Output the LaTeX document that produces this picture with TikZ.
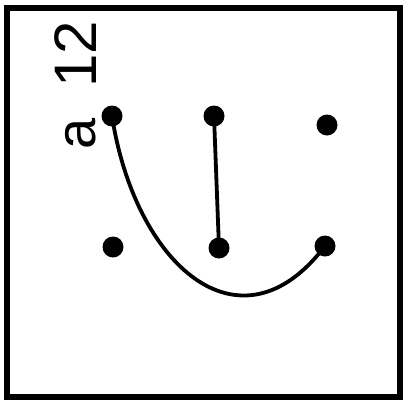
\documentclass[tikz,border=0pt]{standalone}
\usepackage{fontspec}
\setmainfont{Liberation Sans}
\begin{document}
\begin{tikzpicture}[x=1pt,y=-1pt,
  dot/.style={circle,fill=black,inner sep=0pt,minimum size=21pt},
  conn/.style={line width=3.8pt,line cap=round},
  lbl/.style={rotate=90,anchor=base west,inner sep=0pt}]
\useasboundingbox (0,0) rectangle (409,402);
\draw[line width=5.5pt] (7,8) rectangle (400,397);
\node[lbl,font=\fontsize{60}{60}\selectfont] (twelve) at (96,88) {12};
\node[lbl,font=\fontsize{56}{56}\selectfont] (a) at (95,150) {a};
\node[dot] (tl) at (112,116) {};
\node[dot] (tm) at (214,116) {};
\node[dot] (tr) at (327,125) {};
\node[dot] (bl) at (113,247) {};
\node[dot] (bm) at (219,248) {};
\node[dot] (br) at (325,246) {};
\draw[conn] (tm.center) -- (bm.center);
\draw[conn] (tl.center) .. controls (135,265) and (240,358) .. (br.center);
\end{tikzpicture}
\end{document}
